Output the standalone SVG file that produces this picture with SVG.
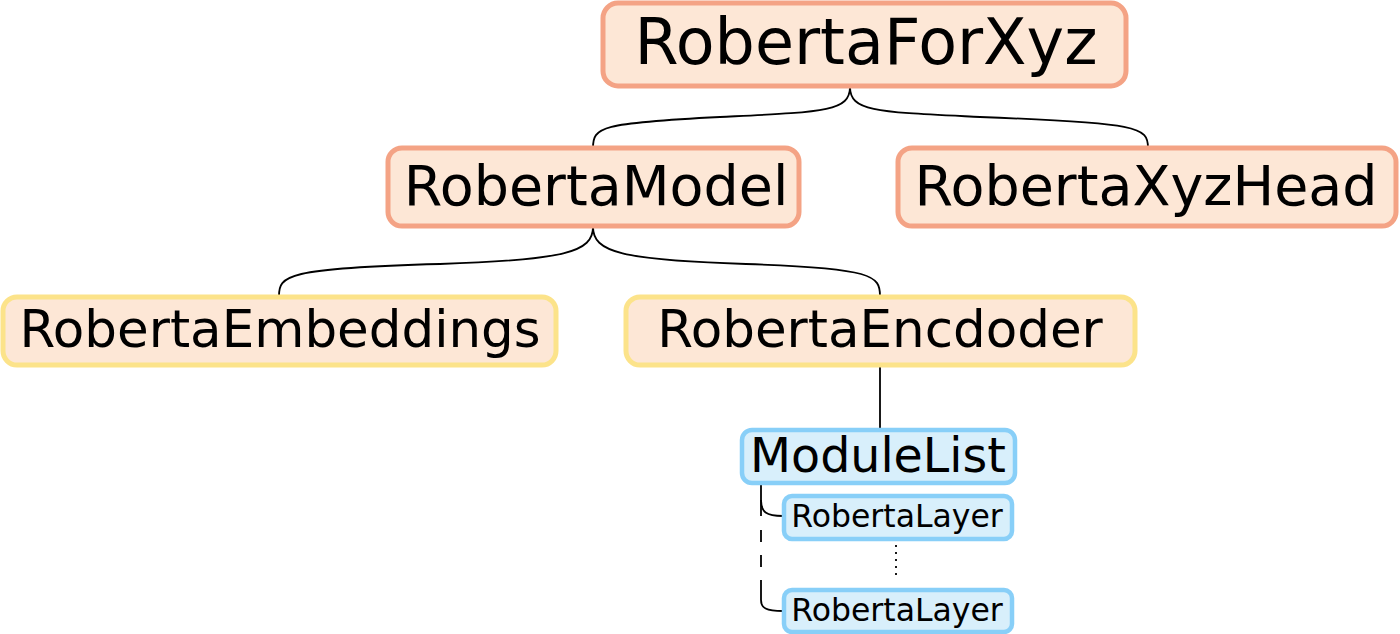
<svg xmlns="http://www.w3.org/2000/svg" width="1400" height="634" viewBox="0 0 1400 634">
<style>
.bg{fill:#ffffff}
.o{fill:#fde7d6;stroke:#f4a385;stroke-width:5}
.y{fill:#fde7d6;stroke:#fce38a;stroke-width:5}
.b{fill:#d8effb;stroke:#88cff8;stroke-width:4.5}
text{font-family:"DejaVu Sans","Liberation Sans",sans-serif;fill:#000;text-anchor:middle}
.c{fill:none;stroke:#000;stroke-width:1.8}
</style>
<rect class="bg" x="0" y="0" width="1400" height="634"/>
<g id="connectors">
<path class="c" d="M850,87 C850,112 822,112 720,117 C600,123 593,127 593,148"/>
<path class="c" d="M850,87 C850,112 878,112 980,117 C1140,123 1148,127 1148,148"/>
<path class="c" d="M593,227 C593,252 565,260 440,264 C285,268 279,276 279,296"/>
<path class="c" d="M593,227 C593,252 621,260 746,264 C874,268 880,276 880,296"/>
<path class="c" d="M880,366 L880,430"/>
<path class="c" d="M761,484 L761,516"/>
<path class="c" d="M761,500 C761,512 766,516 783,516"/>
<path class="c" d="M761,530 L761,568" stroke-dasharray="12,13"/>
<path class="c" d="M761,580 L761,600 C761,608 766,611 783,611"/>
<path class="c" d="M896,545 L896,580" stroke-dasharray="2,5"/>
</g>
<g id="robertaforxyz">
<rect class="o" x="603" y="3" width="523" height="83" rx="15"/>
<text x="866" y="64" font-size="63.5">RobertaForXyz</text>
</g>
<g id="robertamodel">
<rect class="o" x="388" y="148" width="411" height="78" rx="14"/>
<text x="596" y="205" font-size="55.5">RobertaModel</text>
</g>
<g id="robertaxyzhead">
<rect class="o" x="898" y="148" width="498" height="78" rx="14"/>
<text x="1146" y="205" font-size="55.5">RobertaXyzHead</text>
</g>
<g id="robertaembeddings">
<rect class="y" x="3" y="297" width="553" height="68" rx="14"/>
<text x="280" y="347" font-size="51.5">RobertaEmbeddings</text>
</g>
<g id="robertaencdoder">
<rect class="y" x="626" y="297" width="509" height="68" rx="14"/>
<text x="880" y="347" font-size="51.5">RobertaEncdoder</text>
</g>
<g id="modulelist">
<rect class="b" x="742" y="430" width="273" height="53" rx="10"/>
<text x="878" y="472" font-size="47.5">ModuleList</text>
</g>
<g id="robertalayer1">
<rect class="b" x="784" y="496" width="228" height="43" rx="8"/>
<text x="897" y="527" font-size="31.5">RobertaLayer</text>
</g>
<g id="robertalayer2">
<rect class="b" x="784" y="590" width="228" height="42" rx="8"/>
<text x="897" y="621" font-size="31.5">RobertaLayer</text>
</g>
</svg>
